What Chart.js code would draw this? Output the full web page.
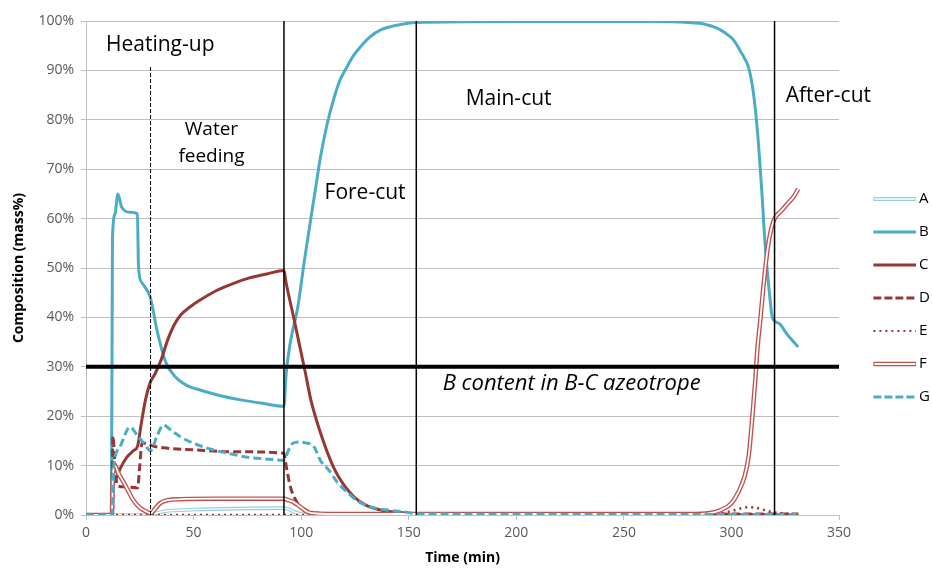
<!DOCTYPE html>
<html lang="en">
<head>
<meta charset="UTF-8"/>
<title>Composition (mass%) vs time</title>
<script src="https://cdn.jsdelivr.net/npm/chart.js@4.4.1/dist/chart.umd.min.js"></script>
<style>
  html, body { margin:0; padding:0; background:#fff; }
</style>
</head>
<body>
<canvas id="Chart" width="932" height="569"></canvas>
<script>
// ---- data (time in min, composition in mass%) ----
var seriesNames = ['A', 'B', 'C', 'D', 'E', 'F', 'G'];

var timeA = [0, 28, 30, 33, 36, 40, 50, 70, 92, 94, 97, 100, 103, 331];
var compA = [0, 0, 0.1, 0.4, 0.7, 0.9, 1.1, 1.3, 1.4, 1.2, 0.6, 0.2, 0, 0];

var timeB = [0, 11.8, 12.3, 13.5, 14.8, 16.6, 20.5, 23.9, 24.4, 26, 29.9, 33, 37, 41.5, 47, 53, 62, 72, 82, 92,
             93, 95, 98.4, 101.5, 104.5, 107, 109, 112, 115, 118, 121, 124, 127, 132, 137, 145, 153.5, 200, 260, 280,
             288, 293, 297, 300, 302, 304, 306, 308, 310, 312, 314, 315.8, 317.6, 319, 322, 326, 331];
var compB = [0, 0, 56, 61, 65, 62.3, 61.3, 61, 50.2, 47, 44, 37.4, 31, 28, 26.2, 25.3, 24.2, 23.3, 22.6, 22,
             28.5, 35, 42, 51.5, 60, 67, 72.5, 79, 84, 88, 90.5, 92.8, 94.5, 96.8, 98.2, 99.2, 99.7, 99.9, 99.9, 99.7,
             99.3, 98.6, 97.6, 96.6, 95.5, 94, 92.5, 90.5, 86, 78, 66, 53.6, 45, 40, 38.8, 36.5, 34];

var timeC = [0, 12.3, 12.6, 14, 16, 19, 22, 24, 25.5, 27.5, 30, 32, 35, 38, 41, 44, 48, 53, 60, 68, 76, 84, 92,
             93, 96.5, 102, 104.5, 109, 115, 120, 124.5, 130, 137, 145, 152.5, 160, 331];
var compC = [0, 0, 6, 7.5, 9.5, 11.7, 13, 14, 18, 23, 27, 28.5, 31.5, 35.5, 38.5, 40.5, 42, 43.5, 45.3, 46.8, 48, 48.8, 49.5,
             47, 40, 28.7, 23.3, 16.6, 9.7, 6, 3.7, 2, 1, 0.5, 0.3, 0.1, 0.1];

var timeD = [0, 12, 12.5, 13.5, 14.5, 18, 24, 25, 26, 28.5, 31, 36, 50, 70, 92, 93, 95, 97.5, 100, 104.5, 110, 120, 331];
var compD = [0, 0, 16, 10, 6, 5.7, 5.5, 10, 14.5, 14.5, 14, 13.6, 13.2, 12.8, 12.5, 10, 5.7, 3, 1.6, 0.6, 0.3, 0.2, 0.2];

var timeE = [0, 280, 295, 300, 304, 308, 312, 316, 320, 325, 331];
var compE = [0, 0, 0.3, 0.8, 1.3, 1.6, 1.4, 0.9, 0.5, 0.3, 0.1];

var timeF = [0, 12, 12.5, 13.5, 15, 17, 19.5, 22, 25, 28.5, 30, 32, 34.5, 38, 44, 60, 92, 94, 96.5, 100, 103, 107, 115,
             280, 290, 295, 300, 303, 306, 308, 309.7, 311, 312, 313.5, 315, 316.7, 318, 320, 323, 326, 329, 331];
var compF = [0, 0, 8, 10, 8.5, 7, 5, 3, 1.5, 0.6, 0.3, 1.2, 2.4, 3, 3.2, 3.3, 3.3, 3, 2.6, 1.5, 0.6, 0.3, 0.2,
             0.2, 0.4, 1, 2.4, 4.5, 7.7, 12, 20, 27, 33.4, 40, 47, 53.6, 57, 60, 61.5, 63, 64.5, 66];

var timeG = [0, 12, 13, 13.5, 16, 20.5, 24, 27, 30, 33, 36, 40, 44, 50, 59, 67, 75, 85, 92, 94, 96, 99, 102, 106, 109,
             113, 117, 121, 124.5, 128, 132.5, 140, 148, 155, 331];
var compG = [0, 0, 10, 11.7, 14, 17.8, 16, 14.5, 13, 16, 18.2, 17, 15.8, 14.5, 13.2, 12.4, 11.7, 11.3, 11.1, 13, 14.5, 14.8, 14.6, 13.8, 11,
             9, 6.5, 4.8, 3.4, 2.4, 1.6, 1, 0.6, 0.2, 0.1];

// phase boundaries (min) and how high each boundary line goes (%)
var phaseTimes = [30, 92, 153.5, 320];
var phaseTops = [91, 100, 100, 100];
// B content of the B-C azeotrope (%)
var azeotropeB = 30;

var xTickValues = [0, 50, 100, 150, 200, 250, 300, 350];
var yTickValues = [0, 10, 20, 30, 40, 50, 60, 70, 80, 90, 100];

// ---- styling ----
var blue = '#4bacc6', lightBlue = '#93cddd', darkRed = '#953735', red = '#c0504d';

function pts(t, v) {
  var out = [];
  for (var i = 0; i < t.length; i++) out.push({x: t[i], y: v[i]});
  return out;
}

function curve(label, t, v, color, width, dash, order) {
  return {
    label: label, data: pts(t, v), borderColor: color, borderWidth: width,
    borderDash: dash || [], pointRadius: 0, fill: false,
    cubicInterpolationMode: 'monotone', tension: 0.3, order: order
  };
}

// little canvases used as legend symbols
function icon(color, width, dash, inner) {
  var c = document.createElement('canvas');
  c.width = 64; c.height = 10;
  var g = c.getContext('2d');
  g.lineCap = 'butt';
  g.beginPath(); g.moveTo(21, 5); g.lineTo(64, 5);
  g.setLineDash(dash || []);
  g.strokeStyle = color; g.lineWidth = width; g.stroke();
  if (inner) {
    g.beginPath(); g.moveTo(22, 5); g.lineTo(63, 5);
    g.strokeStyle = '#fff'; g.lineWidth = inner; g.stroke();
  }
  return c;
}
var legendIcons = [
  icon(lightBlue, 4, null, 1.6),
  icon(blue, 3),
  icon(darkRed, 3),
  icon(darkRed, 3, [8, 3]),
  icon(darkRed, 2, [2, 4]),
  icon(red, 4.5, null, 1.8),
  icon(blue, 3, [8, 3])
];

var datasets = [];
// reference lines
for (var i = 0; i < phaseTimes.length; i++) {
  datasets.push({
    label: 'phase' + i, data: [{x: phaseTimes[i], y: 0}, {x: phaseTimes[i], y: phaseTops[i]}],
    borderColor: '#000', borderWidth: i === 0 ? 1 : 1.5, borderDash: i === 0 ? [4, 2] : [],
    pointRadius: 0, tension: 0, order: 0
  });
}
datasets.push({
  label: 'azeotrope', data: [{x: xTickValues[0], y: azeotropeB}, {x: xTickValues[xTickValues.length - 1], y: azeotropeB}],
  borderColor: '#000', borderWidth: 4, pointRadius: 0, tension: 0, order: 0
});
// series (Excel draws later series on top)
datasets.push(curve('G', timeG, compG, blue, 3, [8, 4], 1));
datasets.push(curve('F-inner', timeF, compF, '#fff', 1.8, null, 2));
datasets.push(curve('F', timeF, compF, red, 4.5, null, 3));
datasets.push(curve('E', timeE, compE, darkRed, 2.5, [2, 4], 4));
datasets.push(curve('D', timeD, compD, darkRed, 3, [8, 4], 5));
datasets.push(curve('C', timeC, compC, darkRed, 3, null, 6));
datasets.push(curve('B', timeB, compB, blue, 3, null, 7));
datasets.push(curve('A-inner', timeA, compA, '#fff', 1.4, null, 8));
datasets.push(curve('A', timeA, compA, lightBlue, 3.6, null, 9));

// text labels placed in data coordinates
var phaseText = {
  id: 'phaseText',
  afterDraw: function(chart) {
    var x = chart.scales.x, y = chart.scales.y, ctx = chart.ctx;
    var items = [
      {t: 'Heating-up', x: 34.5, y: 95.1, f: '21px "Open Sans"'},
      {t: 'Water', x: 58.3, y: 78, f: '19px "Open Sans"'},
      {t: 'feeding', x: 58.3, y: 72.5, f: '19px "Open Sans"'},
      {t: 'Fore-cut', x: 129.7, y: 65.2, f: '21px "Open Sans"'},
      {t: 'Main-cut', x: 196.4, y: 84.2, f: '21px "Open Sans"'},
      {t: 'After-cut', x: 345, y: 84.8, f: '21px "Open Sans"'},
      {t: 'B content in B-C azeotrope', x: 225.7, y: 26.6, f: 'italic 22px "Open Sans"'}
    ];
    ctx.save();
    ctx.fillStyle = '#000';
    ctx.textAlign = 'center';
    ctx.textBaseline = 'middle';
    items.forEach(function(it) {
      ctx.font = it.f;
      ctx.fillText(it.t, x.getPixelForValue(it.x), y.getPixelForValue(it.y));
    });
    ctx.restore();
  }
};

Chart.defaults.font.family = '"Open Sans", sans-serif';

new Chart(document.getElementById('Chart'), {
  type: 'line',
  data: {datasets: datasets},
  plugins: [phaseText],
  options: {
    responsive: false,
    animation: false,
    layout: {padding: {left: 0, top: 21, right: -8, bottom: 0}},
    plugins: {
      tooltip: {enabled: false},
      legend: {
        position: 'right',
        title: {display: true, text: ' ', padding: 0, font: {size: 5}},
        labels: {
          usePointStyle: true,
          pointStyleWidth: 54.5,
          padding: 18,
          color: '#000',
          font: {size: 15},
          generateLabels: function() {
            return seriesNames.map(function(n, i) {
              return {text: n, pointStyle: legendIcons[i], fillStyle: 'transparent',
                      strokeStyle: 'transparent', lineWidth: 0, hidden: false, fontColor: '#000'};
            });
          }
        }
      }
    },
    scales: {
      x: {
        type: 'linear', min: 0, max: 350,
        afterBuildTicks: function(s) { s.ticks = xTickValues.map(function(v) { return {value: v}; }); },
        afterFit: function(s) { s.height = 54; },
        grid: {drawOnChartArea: false, drawTicks: true, tickLength: 5, color: '#bfbfbf'},
        border: {color: '#bfbfbf'},
        ticks: {color: '#595959', font: {size: 14}, padding: 5, maxRotation: 0},
        title: {display: true, text: 'Time (min)', color: '#000', font: {size: 14, weight: 'bold'}, padding: {top: 0, bottom: 3}}
      },
      y: {
        min: 0, max: 100,
        afterBuildTicks: function(s) { s.ticks = yTickValues.map(function(v) { return {value: v}; }); },
        afterFit: function(s) { s.width = 86; },
        grid: {color: '#bfbfbf', drawTicks: true, tickLength: 5},
        border: {color: '#bfbfbf'},
        ticks: {color: '#595959', font: {size: 14}, padding: 7, callback: function(v) { return v + '%'; }},
        title: {display: true, text: 'Composition (mass%)', color: '#000', font: {size: 14, weight: 'bold'}, padding: {top: 11, bottom: 0}}
      }
    }
  }
});
</script>
</body>
</html>
